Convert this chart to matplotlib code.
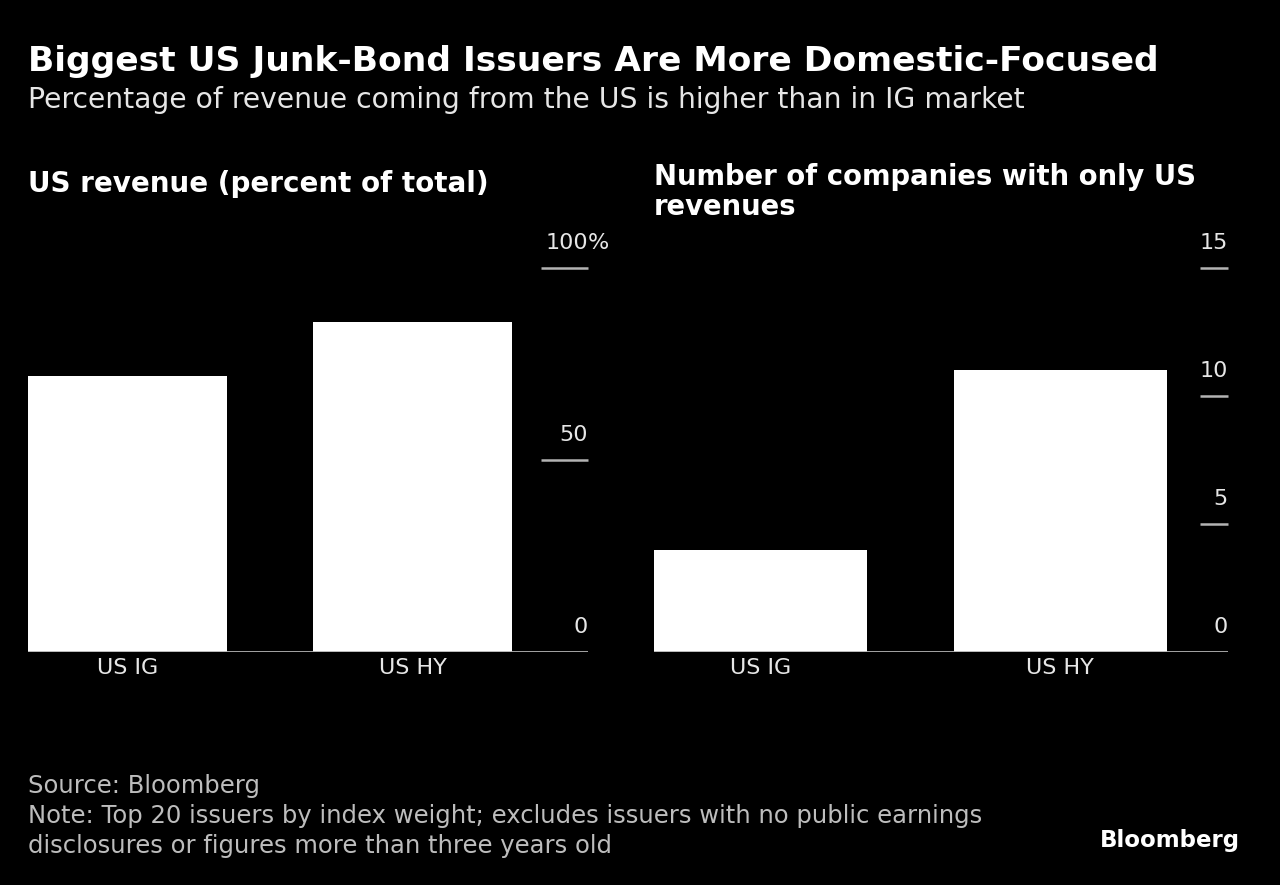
import matplotlib
matplotlib.use("Agg")
import matplotlib.pyplot as plt
from matplotlib.transforms import blended_transform_factory

categories = ["US IG", "US HY"]
us_revenue_pct = [72, 86]
only_us_companies = [4, 11]
left_ticks = [0, 50, 100]
left_tick_labels = ["0", "50", "100"]
right_ticks = [0, 5, 10, 15]
right_tick_labels = ["0", "5", "10", "15"]

W, H = 1280, 885
fig = plt.figure(figsize=(W / 100, H / 100), dpi=100)
fig.patch.set_facecolor("black")

BODY = "DejaVu Sans"
TXT = "#e6e6e6"
GRID = "#b3b3b3"

def px(x, y):
    return x / W, 1 - y / H

def axes_box(x0, x1, ytop, ybot):
    return [x0 / W, 1 - ybot / H, (x1 - x0) / W, (ybot - ytop) / H]

def panel(rect, values, ticks, labels, ymax, width, xlim, tick_px, pct=False):
    ax = fig.add_axes(rect)
    ax.set_facecolor("black")
    ax.bar(range(len(values)), values, width=width, color="white", zorder=2)
    ax.set_xlim(*xlim)
    ax.set_ylim(0, ymax)
    for s in ax.spines.values():
        s.set_visible(False)
    ax.set_xticks([])
    ax.set_yticks([])
    ax.axhline(0, color=GRID, lw=2, zorder=3)
    axw_px = rect[2] * W
    trans = blended_transform_factory(ax.transAxes, ax.transData)
    frac = tick_px / axw_px
    for t, lab in zip(ticks, labels):
        if t != 0:
            ax.plot([1 - frac, 1], [t, t], transform=trans, color=GRID, lw=1.8,
                    clip_on=False, solid_capstyle="butt")
        ax.annotate(lab, xy=(1, t), xycoords=trans, xytext=(0, 10.5),
                    textcoords="offset points", ha="right", va="bottom",
                    color=TXT, fontsize=16, family=BODY)
        if pct and t == ymax:
            ax.annotate("%", xy=(1, t), xycoords=trans, xytext=(0, 10.5),
                        textcoords="offset points", ha="left", va="bottom",
                        color=TXT, fontsize=16, family=BODY)
    for i, c in enumerate(categories):
        ax.annotate(c, xy=(i, 0), xycoords="data", xytext=(0, -4.5),
                    textcoords="offset points", ha="center", va="top",
                    color=TXT, fontsize=16, family=BODY)
    return ax

panel(axes_box(28, 588, 268, 652), us_revenue_pct, left_ticks, left_tick_labels,
      100, 0.7, (-0.35, 1.616), 47, pct=True)
panel(axes_box(654, 1228, 268, 652), only_us_companies, right_ticks, right_tick_labels,
      15, 0.71, (-0.355, 1.559), 28)

fig.text(*px(28, 61), "Biggest US Junk-Bond Issuers Are More Domestic-Focused",
         color="white", fontsize=24.8, fontweight="bold", family=BODY, va="center")
fig.text(*px(28, 100), "Percentage of revenue coming from the US is higher than in IG market",
         color=TXT, fontsize=20.3, family=BODY, va="center")
fig.text(*px(28, 184), "US revenue (percent of total)",
         color="white", fontsize=20, fontweight="bold", family=BODY, va="center")
fig.text(*px(654, 192), "Number of companies with only US\nrevenues",
         color="white", fontsize=19.8, fontweight="bold", family=BODY, va="center",
         linespacing=1.05)
NOTE = "#bdbdbd"
fig.text(*px(28, 786), "Source: Bloomberg", color=NOTE, fontsize=17.5, family=BODY, va="center")
fig.text(*px(28, 816), "Note: Top 20 issuers by index weight; excludes issuers with no public earnings",
         color=NOTE, fontsize=17.5, family=BODY, va="center")
fig.text(*px(28, 846), "disclosures or figures more than three years old",
         color=NOTE, fontsize=17.5, family=BODY, va="center")
fig.text(*px(1240, 840), "Bloomberg", color="white", fontsize=16.5, fontweight="bold",
         family=BODY, va="center", ha="right")

fig.savefig("out.png", dpi=100, facecolor="black")
